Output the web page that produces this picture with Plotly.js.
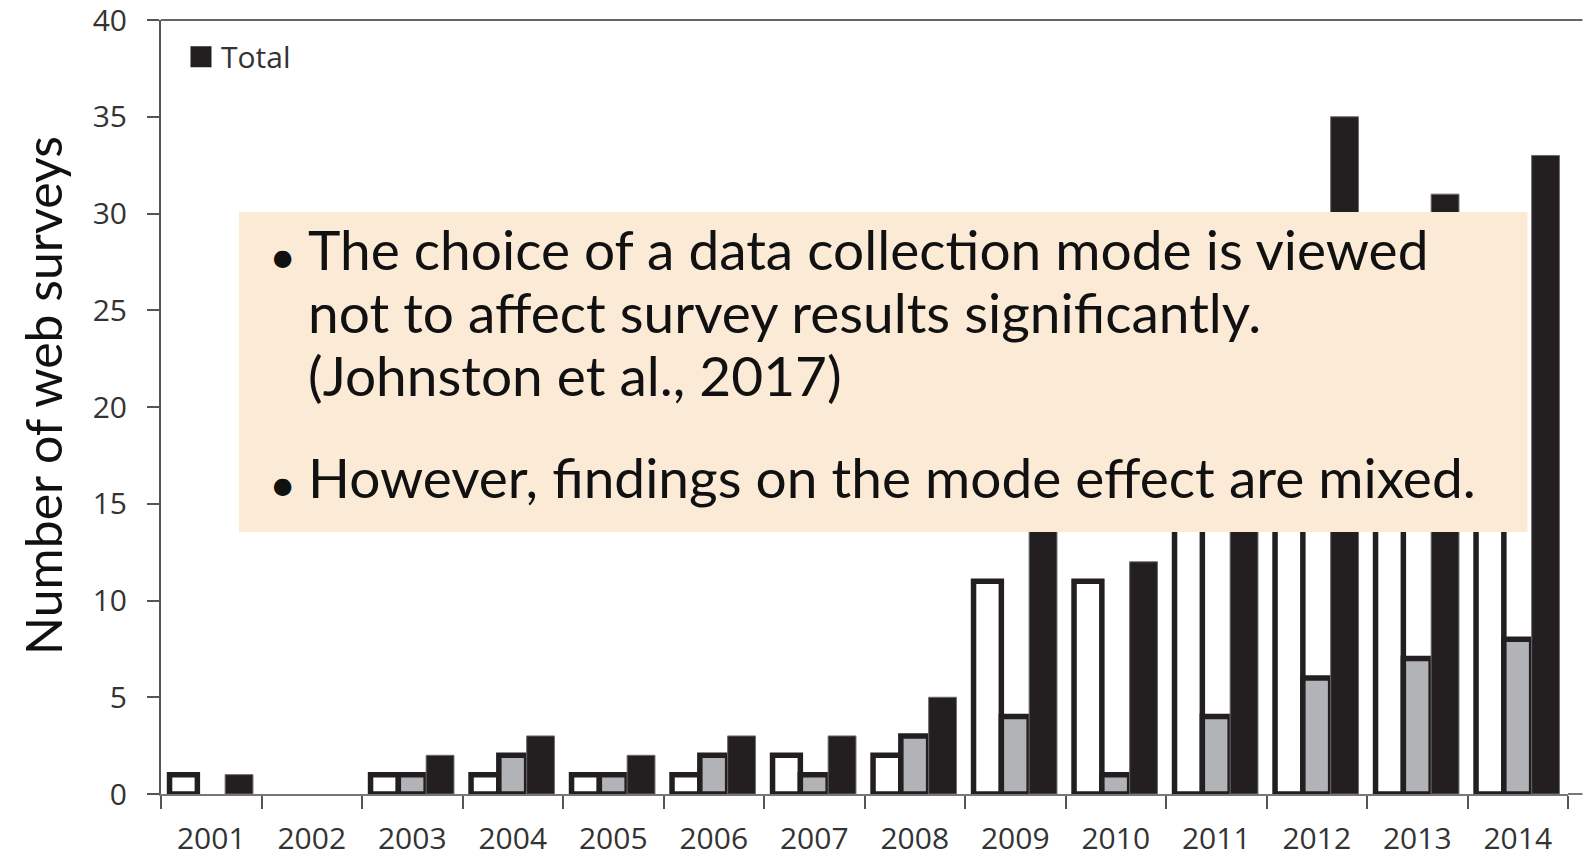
<!DOCTYPE html>
<html>
<head>
<meta charset="utf-8">
<script src="https://cdn.plot.ly/plotly-3.0.1.min.js"></script>
<style>html,body{margin:0;padding:0;background:#fff;}#chart{width:1583px;height:859px;}</style>
</head>
<body>
<div id="chart"></div>
<script>
// Data
const years = ['2001','2002','2003','2004','2005','2006','2007','2008','2009','2010','2011','2012','2013','2014'];
const webOnly = [1, 0, 1, 1, 1, 1, 2, 2, 11, 11, 22, 29, 24, 25];
const mixedMode = [0, 0, 1, 2, 1, 2, 1, 3, 4, 1, 4, 6, 7, 8];
const total = [1, 0, 2, 3, 2, 3, 3, 5, 15, 12, 26, 35, 31, 33];

const yTickVals = [0, 5, 10, 15, 20, 25, 30, 35, 40];
const legendName = 'Total';
const yTitle = 'Number of web surveys';
const bullet1 = ['The choice of a data collection mode is viewed', 'not to affect survey results significantly.', '(Johnston et al., 2017)'];
const bullet2 = ['However, findings on the mode effect are mixed.'];

const ink = '#231f20';
// zero-height bars are not drawn in the reference: no outline for them
const outline = vals => vals.map(v => (v === 0 ? 0 : 5.5));
const thin = vals => vals.map(v => (v === 0 ? 0 : 1));

const traces = [
  {type:'bar', name:'Web', x:years, y:webOnly, showlegend:false,
   marker:{color:'#ffffff', line:{color:ink, width:outline(webOnly)}}},
  {type:'bar', name:'Mixed', x:years, y:mixedMode, showlegend:false,
   marker:{color:'#b1b3b6', line:{color:ink, width:outline(mixedMode)}}},
  {type:'bar', name:legendName, x:years, y:total, showlegend:false, legendgroup:'t',
   marker:{color:ink, line:{color:'#6d6b6b', width:thin(total)}}},
  {type:'scatter', mode:'markers', name:legendName, x:[null], y:[null], legendgroup:'t',
   showlegend:true, marker:{symbol:'square', size:22, color:ink, line:{color:ink, width:5}}}
];

const textFont = {family:'Lato, "Open Sans", sans-serif', size:55, color:'#111111'};
const bulletFont = {family:'Lato, "Open Sans", sans-serif', size:47, color:'#111111'};

// text layout helpers (pixel -> paper)
const plotL = 161, plotW = 1407.5, plotTop = 20, plotBottom = 794, plotH = 774;
const px = p => (p - plotL) / plotW;
const py = p => (plotBottom - p) / plotH;

const lineCenters1 = [249, 312, 375];
const lineCenters2 = [477];
const bulletCenters = [255, 483];
const annotations = [];
bullet1.forEach((t, i) => annotations.push({xref:'paper', yref:'paper', x:px(306), y:py(lineCenters1[i]),
  xanchor:'left', yanchor:'middle', text:t, showarrow:false, font:textFont}));
bullet2.forEach((t, i) => annotations.push({xref:'paper', yref:'paper', x:px(306), y:py(lineCenters2[i]),
  xanchor:'left', yanchor:'middle', text:t, showarrow:false, font:textFont}));
bulletCenters.forEach(c => annotations.push({xref:'paper', yref:'paper', x:px(283), y:py(c),
  xanchor:'center', yanchor:'middle', text:'•', showarrow:false, font:bulletFont}));
// y-axis title, placed as in the reference (slightly above the plot centre)
annotations.push({xref:'paper', yref:'paper', x:px(43), y:py(396), xanchor:'center', yanchor:'middle',
  textangle:-90, text:yTitle, showarrow:false,
  font:{family:'Lato, "Open Sans", sans-serif', size:50, color:'#111111'}});

const layout = {
  width:1583, height:859,
  margin:{l:plotL, r:1583 - plotL - plotW, t:plotTop, b:859 - plotBottom, pad:0},
  paper_bgcolor:'#ffffff', plot_bgcolor:'#ffffff',
  barmode:'group', bargap:0.17, bargroupgap:0,
  showlegend:true,
  legend:{x:px(181), y:0.9862, xanchor:'left', yanchor:'top', bgcolor:'rgba(0,0,0,0)',
          itemwidth:30, font:{family:'"Open Sans", sans-serif', size:30, color:'#333333'}},
  xaxis:{type:'category', range:[-0.5, 13.5], showgrid:false, zeroline:false,
         showline:true, linecolor:'#777777', linewidth:2,
         ticks:'outside', tickson:'boundaries', ticklen:13, tickcolor:'#555555', tickwidth:2,
         ticklabelstandoff:17,
         tickfont:{family:'"Open Sans", sans-serif', size:30, color:'#333333'}},
  yaxis:{range:[0, 40], tickvals:yTickVals, showgrid:false, zeroline:false,
         showline:true, linecolor:'#555555', linewidth:2,
         ticks:'outside', ticklen:12, tickcolor:'#555555', tickwidth:2,
         ticklabelstandoff:14, ticklabeloverflow:'allow',
         tickfont:{family:'"Open Sans", sans-serif', size:30, color:'#333333'}},
  shapes:[
    {type:'line', xref:'paper', yref:'paper', x0:0, x1:1 + (1583 - plotL - plotW) / plotW, y0:1, y1:1,
     line:{color:'#666666', width:2}, layer:'above'},
    {type:'line', xref:'paper', yref:'paper', x0:1, x1:1 + (1583 - plotL - plotW) / plotW, y0:0, y1:0,
     line:{color:'#777777', width:2}, layer:'above'},
    {type:'rect', xref:'paper', yref:'paper', x0:px(239), x1:px(1528), y0:py(532), y1:py(212),
     fillcolor:'#fbead6', line:{width:0}, layer:'above'}
  ],
  annotations:annotations
};

Plotly.newPlot('chart', traces, layout, {displayModeBar:false, staticPlot:true});
</script>
</body>
</html>
